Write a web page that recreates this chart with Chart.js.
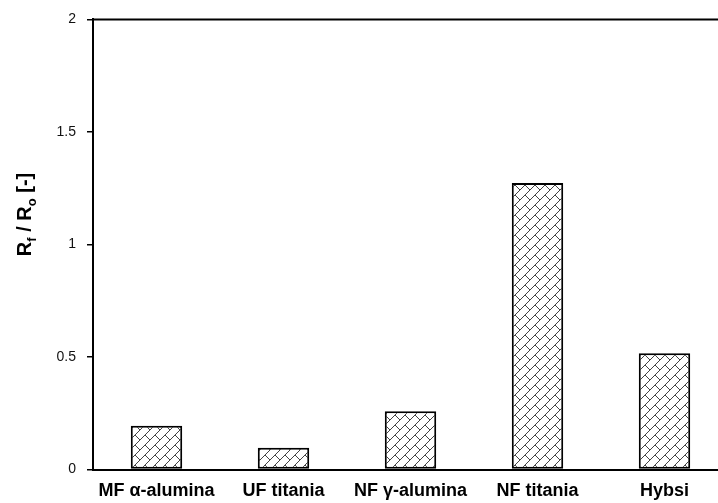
<!DOCTYPE html>
<html>
<head>
<meta charset="utf-8">
<script src="https://cdn.jsdelivr.net/npm/chart.js@4/dist/chart.umd.min.js"></script>
<style>
  html, body { margin: 0; padding: 0; background: #fff; overflow: hidden; }
  #wrap { width: 718px; height: 503px; overflow: hidden; }
</style>
</head>
<body>
<div id="wrap"><canvas id="foulingChart" width="728" height="503"></canvas></div>
<script>
const categories = ['MF α-alumina', 'UF titania', 'NF γ-alumina', 'NF titania', 'Hybsi'];
const ratioValues = [0.194, 0.097, 0.259, 1.273, 0.517];
const yTicks = [0, 0.5, 1, 1.5, 2];

// diagonal brick fill, 10x10 tile
function brickPattern() {
  const n = 10;
  const c = document.createElement('canvas');
  c.width = n; c.height = n;
  const g = c.getContext('2d');
  g.fillStyle = '#fff';
  g.fillRect(0, 0, n, n);
  g.fillStyle = '#444';
  for (let i = 0; i < n; i++) g.fillRect(n - 1 - i, i, 1, 1);     // long rising line
  for (let i = n / 2; i < n; i++) g.fillRect(i, i, 1, 1);         // short brick joint
  return g.createPattern(c, 'repeat');
}

const frameAndTitle = {
  id: 'frameAndTitle',
  afterDraw(chart) {
    const ctx = chart.ctx, area = chart.chartArea;
    ctx.save();
    ctx.strokeStyle = '#000';
    ctx.lineWidth = 2;
    ctx.beginPath();
    ctx.moveTo(area.left, area.top);
    ctx.lineTo(area.right, area.top);
    ctx.stroke();

    // y title with subscripts
    const parts = [
      ['R', 0, 20], ['f', 5, 13], [' / R', 0, 20], ['o', 5, 13], [' [-]', 0, 20]
    ];
    let total = 0;
    parts.forEach(p => { ctx.font = 'bold ' + p[2] + 'px Arial, "Liberation Sans"'; total += ctx.measureText(p[0]).width; });
    ctx.translate(31, (area.top + area.bottom) / 2 - 30);
    ctx.rotate(-Math.PI / 2);
    ctx.fillStyle = '#000';
    ctx.textBaseline = 'alphabetic';
    let x = -total / 2;
    parts.forEach(p => {
      ctx.font = 'bold ' + p[2] + 'px Arial, "Liberation Sans"';
      ctx.fillText(p[0], x, p[1]);
      x += ctx.measureText(p[0]).width;
    });
    ctx.restore();
  }
};

new Chart(document.getElementById('foulingChart'), {
  type: 'bar',
  data: {
    labels: categories,
    datasets: [{
      data: ratioValues,
      backgroundColor: brickPattern(),
      borderColor: '#000',
      borderWidth: 2,
      borderSkipped: false,
      categoryPercentage: 1,
      barPercentage: 0.405
    }]
  },
  options: {
    responsive: false,
    animation: false,
    layout: { padding: { top: 18, left: 0, right: 0, bottom: 0 } },
    plugins: { legend: { display: false }, tooltip: { enabled: false } },
    scales: {
      x: {
        grid: { display: false },
        border: { display: true, color: '#000', width: 2 },
        ticks: { color: '#000', padding: 3, maxRotation: 0, font: { family: 'Arial, "Liberation Sans"', size: 18, weight: 'bold' } },
        afterFit(scale) { scale.height = 33.5; }
      },
      y: {
        min: 0,
        max: 2,
        afterBuildTicks(scale) { scale.ticks = yTicks.map(v => ({ value: v })); },
        grid: { drawOnChartArea: false, drawTicks: true, tickLength: 6, color: '#000', lineWidth: 1.5 },
        border: { display: true, color: '#000', width: 2 },
        ticks: {
          color: '#111', padding: 11,
          font: { family: 'Arial, "Liberation Sans"', size: 14 },
          callback: v => String(v)
        },
        afterFit(scale) { scale.width = 93; }
      }
    }
  },
  plugins: [frameAndTitle]
});
</script>
</body>
</html>
